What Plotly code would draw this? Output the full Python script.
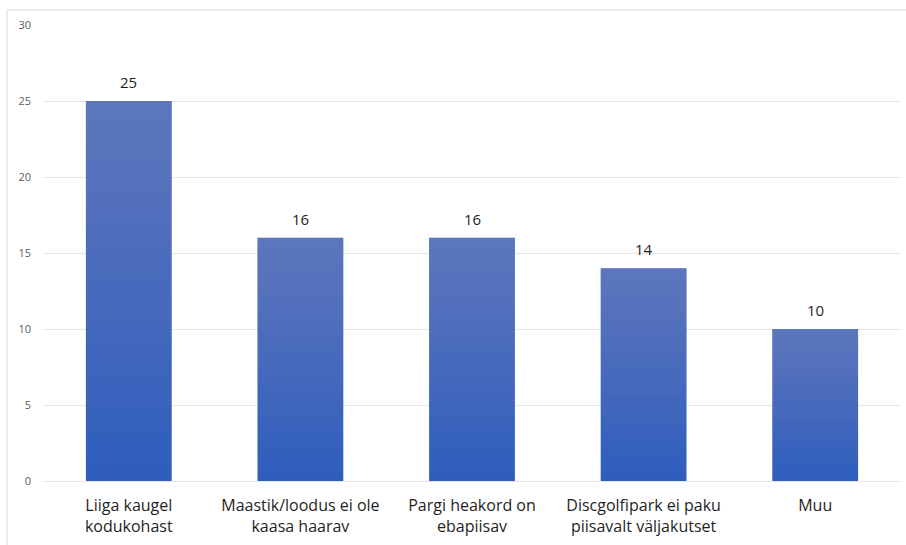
import plotly.graph_objects as go

# Survey answers: reasons for not visiting the disc golf park
categories = [
    "Liiga kaugel<br>kodukohast",
    "Maastik/loodus ei ole<br>kaasa haarav",
    "Pargi heakord on<br>ebapiisav",
    "Discgolfipark ei paku<br>piisavalt väljakutset",
    "Muu",
]
values = [25, 16, 16, 14, 10]
y_ticks = [0, 5, 10, 15, 20, 25, 30]

BASE_BLUE = "rgb(47,94,188)"
FONT = "Open Sans"

fig = go.Figure()

# Solid base bars in the darker blue
fig.add_trace(go.Bar(
    x=categories, y=values,
    marker=dict(color=BASE_BLUE, line=dict(width=0)),
    hoverinfo="skip",
))

# Vertical gradient: stacked translucent white layers that thicken toward the top
layers = 24
alpha = 1 - 0.784 ** (1 / layers)
for i in range(1, layers + 1):
    frac = i / (layers + 1)
    fig.add_trace(go.Bar(
        x=categories,
        y=[v * (1 - frac) for v in values],
        base=[v * frac for v in values],
        marker=dict(color=f"rgba(255,255,255,{alpha:.4f})", line=dict(width=0)),
        hoverinfo="skip",
    ))

# Value labels above each bar
for c, v in zip(categories, values):
    fig.add_annotation(
        x=c, y=v, text=str(v), showarrow=False,
        yanchor="bottom", yshift=7,
        font=dict(family=FONT, size=15, color="#1F1F1F"),
    )

# Chart frame (top and left edges)
frame = dict(color="#D9D9D9", width=1)
fig.add_shape(type="line", xref="paper", yref="paper",
              x0=-0.042, x1=1.2, y0=1.033, y1=1.033, line=frame)
fig.add_shape(type="line", xref="paper", yref="paper",
              x0=-0.042, x1=-0.042, y0=1.033, y1=-0.3, line=frame)

fig.update_layout(
    width=906, height=545,
    margin=dict(l=43, r=5, t=25, b=64),
    barmode="overlay",
    bargap=0.5,
    showlegend=False,
    plot_bgcolor="white",
    paper_bgcolor="white",
    font=dict(family=FONT),
)
fig.update_xaxes(
    showgrid=False, showline=False, zeroline=False,
    tickfont=dict(family=FONT, size=16, color="#1F1F1F"),
    ticks="", ticklabelstandoff=13,
)
fig.update_yaxes(
    range=[0, 30], tickvals=y_ticks,
    showgrid=True, gridcolor="#E3E6EA", gridwidth=1,
    zeroline=True, zerolinecolor="#E3E6EA", zerolinewidth=1,
    showline=False, ticks="",
    tickfont=dict(family=FONT, size=11, color="#595959"),
    ticklabelstandoff=11,
)

fig.write_html("out.html")
